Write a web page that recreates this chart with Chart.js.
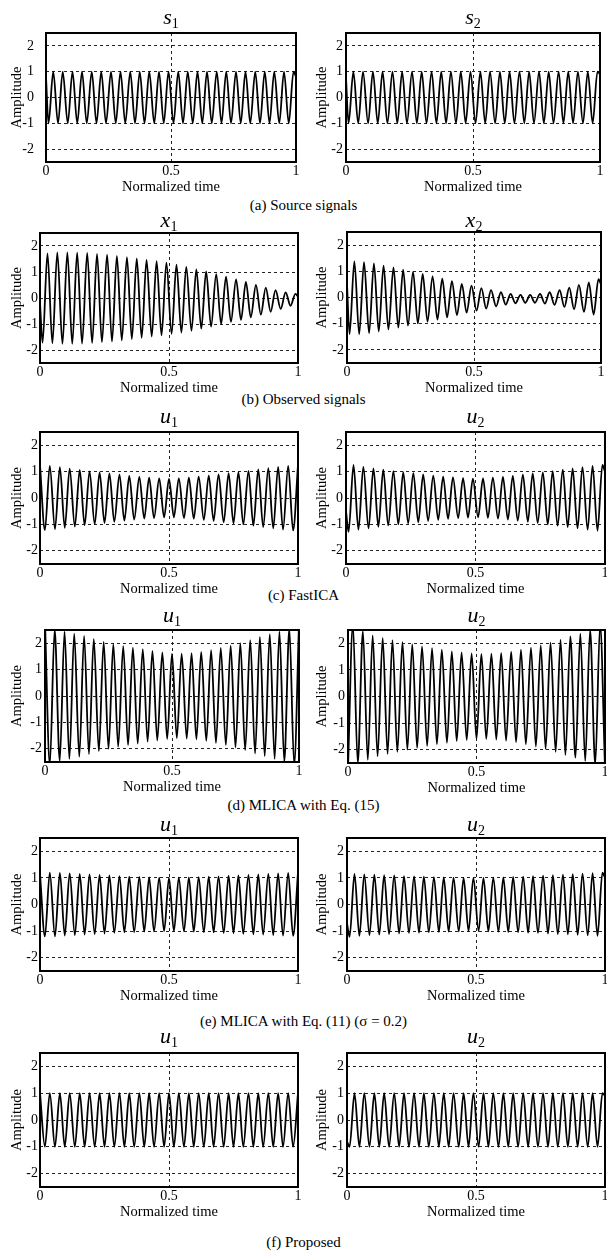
<!DOCTYPE html>
<html>
<head>
<meta charset="utf-8">
<script src="https://cdn.jsdelivr.net/npm/chart.js@4.4.0/dist/chart.umd.min.js"></script>
<style>
  html, body { margin: 0; padding: 0; background: #fff; }
  body { width: 607px; height: 1255px; position: relative; overflow: hidden;
         font-family: 'Liberation Serif', 'Times New Roman', serif; color: #000; }
  .panel { position: absolute; }
  .ttl { position: absolute; text-align: center; font-size: 22px; line-height: 22px; font-style: italic; }
  .ttl sub { font-style: normal; font-size: 14px; vertical-align: -4px; line-height: 0; }
  .cap { position: absolute; left: 0; width: 607px; text-align: center; font-size: 15px; line-height: 18px; }
</style>
</head>
<body>
<script>
// time stamps of the turning points (mid grid starts between two extremes, edge grid starts on one)
const timesMid = [0,
  0.01, 0.029, 0.048, 0.067, 0.087, 0.106, 0.125, 0.144, 0.163, 0.183,
  0.202, 0.221, 0.24, 0.26, 0.279, 0.298, 0.317, 0.337, 0.356, 0.375,
  0.394, 0.413, 0.433, 0.452, 0.471, 0.49, 0.51, 0.529, 0.548, 0.567,
  0.587, 0.606, 0.625, 0.644, 0.663, 0.683, 0.702, 0.721, 0.74, 0.76,
  0.779, 0.798, 0.817, 0.837, 0.856, 0.875, 0.894, 0.913, 0.933, 0.952,
  0.971, 0.99,
  1];
const timesEdge = [
  0, 0.019, 0.038, 0.058, 0.077, 0.096, 0.115, 0.135, 0.154, 0.173,
  0.192, 0.212, 0.231, 0.25, 0.269, 0.288, 0.308, 0.327, 0.346, 0.365,
  0.385, 0.404, 0.423, 0.442, 0.462, 0.481, 0.5, 0.519, 0.538, 0.558,
  0.577, 0.596, 0.615, 0.635, 0.654, 0.673, 0.692, 0.712, 0.731, 0.75,
  0.769, 0.788, 0.808, 0.827, 0.846, 0.865, 0.885, 0.904, 0.923, 0.942,
  0.962, 0.981, 1];

const xTicks = [0, 0.5, 1];
const yTicks = [-2, -1, 0, 1, 2];

// (a) source signals
const s1Vals = [0.8,
  -1, 1, -1, 1, -1, 1, -1, 1, -1, 1,
  -1, 1, -1, 1, -1, 1, -1, 1, -1, 1,
  -1, 1, -1, 1, -1, 1, -1, 1, -1, 1,
  -1, 1, -1, 1, -1, 1, -1, 1, -1, 1,
  -1, 1, -1, 1, -1, 1, -1, 1, -1, 1,
  -1, 1,
  0.8];
const s2Vals = [0.75,
  -1, 1, -1, 1, -1, 1, -1, 1, -1, 1,
  -1, 1, -1, 1, -1, 1, -1, 1, -1, 1,
  -1, 1, -1, 1, -1, 1, -1, 1, -1, 1,
  -1, 1, -1, 1, -1, 1, -1, 1, -1, 1,
  -1, 1, -1, 1, -1, 1, -1, 1, -1, 1,
  -1, 1,
  0.9];

// (b) observed signals
const x1Vals = [-0.2,
  -1.72, 1.72, -1.74, 1.75, -1.76, 1.75, -1.76, 1.74, -1.75, 1.73,
  -1.73, 1.7, -1.7, 1.67, -1.67, 1.62, -1.63, 1.57, -1.58, 1.52,
  -1.53, 1.47, -1.48, 1.42, -1.44, 1.36, -1.38, 1.28, -1.33, 1.2,
  -1.26, 1.1, -1.18, 1.02, -1.1, 0.92, -1.0, 0.82, -0.92, 0.72,
  -0.84, 0.62, -0.74, 0.5, -0.64, 0.4, -0.53, 0.3, -0.42, 0.22,
  -0.3, 0.16,
  0.05];
const x2Vals = [0.5,
  -1.4, 1.38, -1.4, 1.35, -1.36, 1.3, -1.3, 1.22, -1.22, 1.15,
  -1.15, 1.06, -1.07, 0.98, -0.99, 0.9, -0.92, 0.81, -0.84, 0.72,
  -0.76, 0.62, -0.67, 0.52, -0.58, 0.45, -0.5, 0.36, -0.42, 0.28,
  -0.34, 0.2, -0.27, 0.14, -0.22, 0.1, -0.2, 0.1, -0.2, 0.14,
  -0.23, 0.2, -0.28, 0.28, -0.36, 0.38, -0.45, 0.48, -0.55, 0.58,
  -0.65, 0.7,
  0.5];

// (c) FastICA
const fastU1 = [
  1.25, -1.22, 1.22, -1.18, 1.17, -1.13, 1.11, -1.08, 1.06, -1.03,
  1.01, -0.99, 0.97, -0.95, 0.93, -0.9, 0.88, -0.86, 0.84, -0.82,
  0.8, -0.78, 0.77, -0.76, 0.74, -0.73, 0.72, -0.73, 0.74, -0.76,
  0.77, -0.79, 0.81, -0.83, 0.85, -0.87, 0.89, -0.92, 0.94, -0.96,
  0.98, -1.0, 1.03, -1.05, 1.08, -1.1, 1.13, -1.15, 1.18, -1.2,
  1.22, -1.23, 1.25];
const fastU2 = [-0.5,
  -1.28, 1.25, -1.2, 1.18, -1.15, 1.12, -1.09, 1.07, -1.04, 1.02,
  -1.0, 0.98, -0.96, 0.94, -0.92, 0.89, -0.87, 0.85, -0.83, 0.81,
  -0.79, 0.78, -0.76, 0.75, -0.74, 0.73, -0.73, 0.74, -0.75, 0.77,
  -0.78, 0.8, -0.82, 0.84, -0.86, 0.88, -0.9, 0.93, -0.95, 0.97,
  -1.0, 1.02, -1.05, 1.07, -1.1, 1.12, -1.15, 1.17, -1.2, 1.22,
  -1.24, 1.25,
  1.0];

// (d) MLICA with Eq. (15)
const mlica15U1 = [
  2.8, -2.6, 2.52, -2.45, 2.44, -2.38, 2.36, -2.3, 2.28, -2.2,
  2.16, -2.09, 2.05, -2.0, 1.96, -1.92, 1.89, -1.86, 1.83, -1.8,
  1.77, -1.73, 1.71, -1.68, 1.65, -1.63, 1.6, -1.6, 1.6, -1.61,
  1.62, -1.64, 1.67, -1.7, 1.74, -1.78, 1.82, -1.86, 1.91, -1.95,
  2.0, -2.05, 2.12, -2.18, 2.24, -2.28, 2.34, -2.38, 2.44, -2.48,
  2.55, -2.6, 2.75];
const mlica15U2 = [
  -2.7, 2.7, -2.5, 2.45, -2.38, 2.3, -2.25, 2.2, -2.16, 2.12,
  -2.08, 2.04, -2.0, 1.96, -1.93, 1.88, -1.86, 1.82, -1.8, 1.76,
  -1.74, 1.7, -1.68, 1.66, -1.64, 1.62, -1.6, 1.6, -1.6, 1.61,
  -1.62, 1.64, -1.66, 1.69, -1.72, 1.76, -1.8, 1.84, -1.88, 1.92,
  -1.97, 2.02, -2.08, 2.14, -2.2, 2.26, -2.3, 2.36, -2.42, 2.5,
  -2.55, 2.7, -2.7];

// (e) MLICA with Eq. (11)
const mlica11U1 = [
  1.15, -1.2, 1.2, -1.2, 1.19, -1.17, 1.17, -1.15, 1.15, -1.13,
  1.13, -1.11, 1.11, -1.09, 1.09, -1.07, 1.07, -1.05, 1.05, -1.04,
  1.04, -1.02, 1.02, -1.01, 1.01, -1.0, 1.0, -1.0, 1.01, -1.01,
  1.02, -1.02, 1.03, -1.04, 1.05, -1.05, 1.06, -1.07, 1.08, -1.08,
  1.09, -1.1, 1.11, -1.12, 1.13, -1.13, 1.15, -1.15, 1.17, -1.17,
  1.19, -1.18, 1.2];
const mlica11U2 = [-0.7,
  -1.22, 1.15, -1.18, 1.13, -1.15, 1.12, -1.13, 1.1, -1.11, 1.09,
  -1.09, 1.07, -1.07, 1.06, -1.06, 1.05, -1.04, 1.03, -1.03, 1.02,
  -1.02, 1.01, -1.01, 1.0, -1.0, 1.0, -1.0, 1.0, -1.01, 1.01,
  -1.02, 1.02, -1.03, 1.04, -1.04, 1.05, -1.06, 1.07, -1.07, 1.08,
  -1.09, 1.1, -1.11, 1.12, -1.12, 1.14, -1.14, 1.16, -1.16, 1.18,
  -1.18, 1.2,
  1.0];

// (f) proposed
const propU1 = [1,
  -1, 1, -1, 1, -1, 1, -1, 1, -1, 1,
  -1, 1, -1, 1, -1, 1, -1, 1, -1, 1,
  -1, 1, -1, 1, -1, 1, -1, 1, -1, 1,
  -1, 1, -1, 1, -1, 1, -1, 1, -1, 1,
  -1, 1, -1, 1, -1, 1, -1, 1, -1, 1,
  -1, 1];
const propU2 = [-0.8,
  -1, 1, -1, 1, -1, 1, -1, 1, -1, 1,
  -1, 1, -1, 1, -1, 1, -1, 1, -1, 1,
  -1, 1, -1, 1, -1, 1, -1, 1, -1, 1,
  -1, 1, -1, 1, -1, 1, -1, 1, -1, 1,
  -1, 1, -1, 1, -1, 1, -1, 1, -1, 1,
  -1, 1,
  0.9];

const captions = [
  ['(a) Source signals', 205],
  ['(b) Observed signals', 399],
  ['(c) FastICA', 595],
  ['(d) MLICA with Eq. (15)', 805],
  ['(e) MLICA with Eq. (11) (σ = 0.2)', 1021],
  ['(f) Proposed', 1242]
];

// plot box of each panel in page pixels
const panels = [
  {vals: s1Vals, times: timesMid, name: 's', sub: '1', l: 46, r: 296, t: 33, b: 162, ox: 8, pad: 12, base: 24},
  {vals: s2Vals, times: timesMid, name: 's', sub: '2', l: 346, r: 600, t: 33, b: 162, ox: 313, pad: 3, base: 24},
  {vals: x1Vals, times: timesMid, name: 'x', sub: '1', l: 40, r: 298, t: 233, b: 363, ox: 8, pad: 2, base: 227},
  {vals: x2Vals, times: timesMid, name: 'x', sub: '2', l: 347, r: 601, t: 232, b: 363, ox: 313, pad: 3, base: 227},
  {vals: fastU1, times: timesEdge, name: 'u', sub: '1', l: 40, r: 298, t: 432, b: 564, ox: 8, pad: 2, base: 423},
  {vals: fastU2, times: timesMid, name: 'u', sub: '2', l: 346, r: 605, t: 432, b: 564, ox: 313, pad: 3, base: 423},
  {vals: mlica15U1, times: timesEdge, name: 'u', sub: '1', l: 45, r: 299, t: 630, b: 762, ox: 8, pad: 3, base: 622},
  {vals: mlica15U2, times: timesEdge, name: 'u', sub: '2', l: 348, r: 605, t: 630, b: 763, ox: 313, pad: 3, base: 622},
  {vals: mlica11U1, times: timesEdge, name: 'u', sub: '1', l: 40, r: 298, t: 838, b: 971, ox: 8, pad: 2, base: 831},
  {vals: mlica11U2, times: timesMid, name: 'u', sub: '2', l: 347, r: 605, t: 838, b: 971, ox: 313, pad: 3, base: 831},
  {vals: propU1, times: timesEdge, name: 'u', sub: '1', l: 40, r: 298, t: 1053, b: 1187, ox: 8, pad: 2, base: 1043},
  {vals: propU2, times: timesMid, name: 'u', sub: '2', l: 347, r: 605, t: 1053, b: 1187, ox: 313, pad: 3, base: 1043}
];

const FONT = "'Liberation Serif', 'Times New Roman', serif";

const framePlugin = {
  id: 'frame',
  afterDraw(chart) {
    const {ctx, chartArea: a} = chart;
    ctx.save();
    ctx.strokeStyle = '#000';
    ctx.lineWidth = 2;
    ctx.strokeRect(a.left, a.top, a.right - a.left, a.bottom - a.top);
    ctx.restore();
  }
};

captions.forEach(([text, y]) => {
  const d = document.createElement('div');
  d.className = 'cap';
  d.style.top = (y - 9) + 'px';
  d.textContent = text;
  document.body.appendChild(d);
});

panels.forEach(p => {
  const TOP = 4, RIGHT = 6, XH = 34;
  const wrap = document.createElement('div');
  wrap.className = 'panel';
  wrap.style.left = p.ox + 'px';
  wrap.style.top = (p.t - TOP) + 'px';
  const cv = document.createElement('canvas');
  cv.width = p.r + RIGHT - p.ox;
  cv.height = (p.b - p.t) + TOP + XH;
  wrap.appendChild(cv);
  document.body.appendChild(wrap);

  const ttl = document.createElement('div');
  ttl.className = 'ttl';
  ttl.style.left = p.l + 'px';
  ttl.style.width = (p.r - p.l) + 'px';
  ttl.style.top = (p.base - 18.5) + 'px';
  ttl.innerHTML = '<i>' + p.name + '</i><sub>' + p.sub + '</sub>';
  document.body.appendChild(ttl);

  const gridOpts = {color: '#222', lineWidth: 1, drawTicks: false};
  const borderOpts = {display: false, dash: [3, 3]};

  new Chart(cv, {
    type: 'line',
    data: {
      datasets: [{
        data: p.vals.map((y, i) => ({x: p.times[i], y: y})),
        borderColor: '#000',
        borderWidth: 1.8,
        pointRadius: 0,
        fill: false,
        cubicInterpolationMode: 'monotone'
      }]
    },
    options: {
      responsive: false,
      animation: false,
      events: [],
      layout: {autoPadding: false, padding: {left: 0, right: RIGHT, top: TOP, bottom: 0}},
      plugins: {legend: {display: false}, tooltip: {enabled: false}},
      scales: {
        x: {
          type: 'linear', min: 0, max: 1,
          afterBuildTicks: s => { s.ticks = xTicks.map(v => ({value: v})); },
          afterFit: s => { s.height = XH; s.paddingLeft = 0; s.paddingRight = 0; },
          grid: gridOpts,
          border: borderOpts,
          ticks: {color: '#000', font: {family: FONT, size: 14}, padding: 1,
                  maxRotation: 0, autoSkip: false, callback: v => String(v)},
          title: {display: true, text: 'Normalized time', color: '#000',
                  font: {family: FONT, size: 14.5}, padding: 0}
        },
        y: {
          min: -2.5, max: 2.5,
          afterBuildTicks: s => { s.ticks = yTicks.map(v => ({value: v})); },
          // fixed width, and no extra top/bottom room for the tick labels
          afterFit: s => { s.width = p.l - p.ox; s.paddingTop = 0; s.paddingBottom = 0; },
          grid: gridOpts,
          border: borderOpts,
          ticks: {color: '#000', font: {family: FONT, size: 14}, padding: p.pad,
                  callback: v => String(v)},
          title: {display: true, text: 'Amplitude', color: '#000',
                  font: {family: FONT, size: 14.5}, padding: 0}
        }
      }
    },
    plugins: [framePlugin]
  });
});
</script>
</body>
</html>
